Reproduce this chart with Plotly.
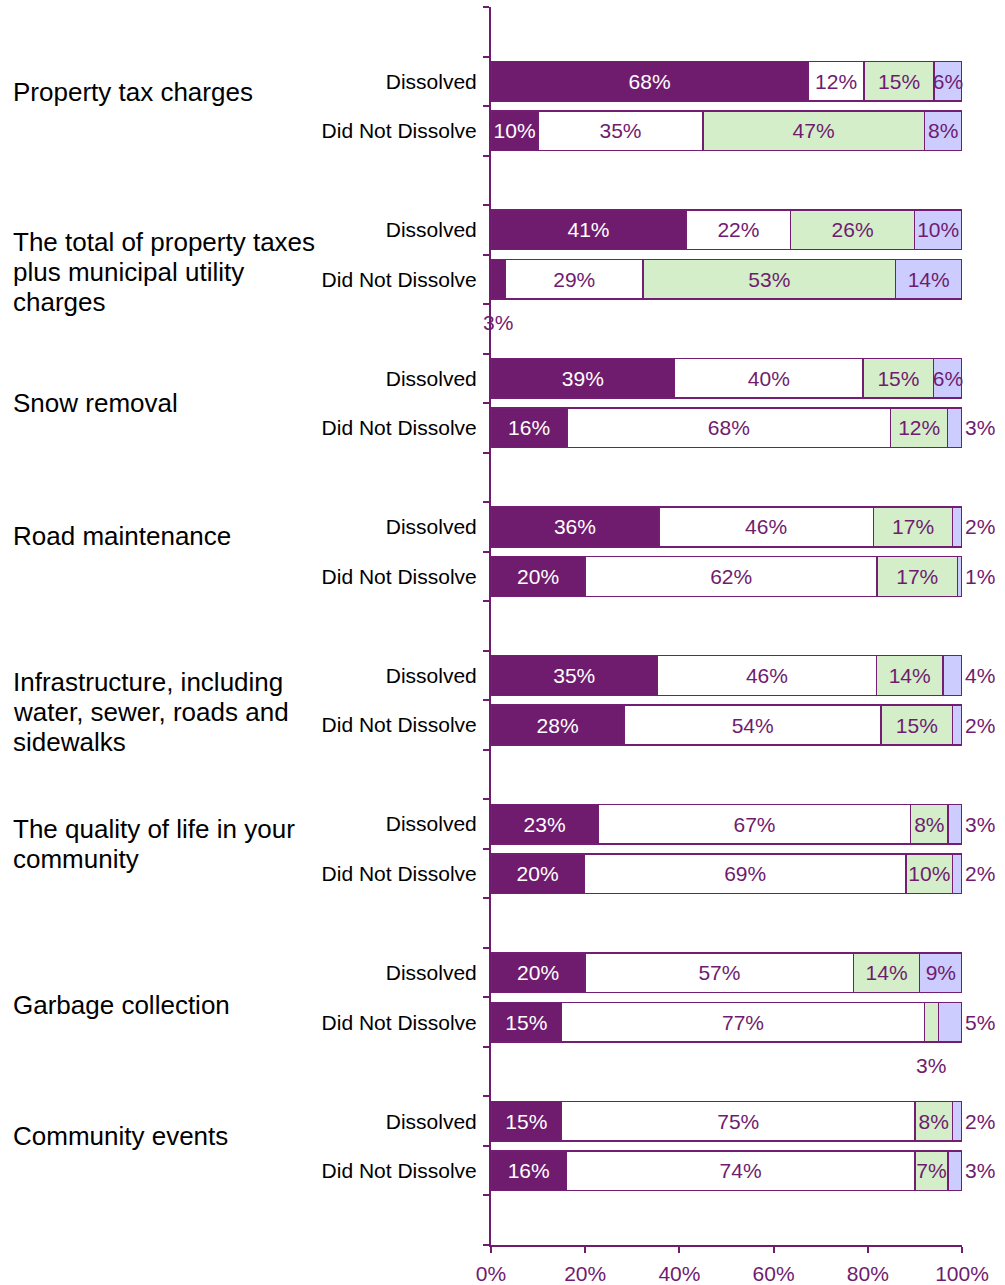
import plotly.graph_objects as go

# ---------------- data ----------------
categories = [
    "Property tax charges",
    "The total of property taxes<br>plus municipal utility<br>charges",
    "Snow removal",
    "Road maintenance",
    "Infrastructure, including<br>water, sewer, roads and<br>sidewalks",
    "The quality of life in your<br>community",
    "Garbage collection",
    "Community events",
]
groups = ["Dissolved", "Did Not Dissolve"]
series_names = ["Response A", "Response B", "Response C", "Response D"]

# rows: for each category -> Dissolved, Did Not Dissolve
seg1 = [68, 10, 41, 3, 39, 16, 36, 20, 35, 28, 23, 20, 20, 15, 15, 16]
seg2 = [12, 35, 22, 29, 40, 68, 46, 62, 46, 54, 67, 69, 57, 77, 75, 74]
seg3 = [15, 47, 26, 53, 15, 12, 17, 17, 14, 15, 8, 10, 14, 3, 8, 7]
seg4 = [6, 8, 10, 14, 6, 3, 2, 1, 4, 2, 3, 2, 9, 5, 2, 3]
x_ticks = [0, 20, 40, 60, 80, 100]
x_ticktext = ["0%", "20%", "40%", "60%", "80%", "100%"]

# ---------------- style ----------------
DARK = "#701C6E"
GREEN = "#D4EECA"
LAV = "#CCCCFF"
PURPLE_TXT = "#6F1C6F"
EDGE = "#731E73"
FONT = "Liberation Sans, Arial, sans-serif"
LABEL_SIZE = 21
CAT_SIZE = 26
LINE_STEP = 30
# vertical nudge (px) of each category label relative to its group centre
cat_nudge = [14.5, -17, 0, 16, -11.5, 4.5, -8, 9.7]

n_rows = len(seg1)
# slot layout: one blank slot on top, then (Dissolved, Did Not Dissolve, blank) per category
ypos = []
for i in range(len(categories)):
    ypos += [3 * i + 1.5, 3 * i + 2.5]
ylabels = [groups[k % 2] for k in range(n_rows)]
n_slots = 3 * len(categories) + 1

series = [seg1, seg2, seg3, seg4]
colors = [DARK, "#FFFFFF", GREEN, LAV]

fig = go.Figure()
annotations = []
for s_idx, (vals, col, nm) in enumerate(zip(series, colors, series_names)):
    texts, positions = [], []
    for r, v in enumerate(vals):
        texts.append(f"{v}%")
        if s_idx == 3 and v <= 5:
            positions.append("outside")
        elif s_idx in (0, 2) and v <= 3:
            positions.append("none")
            total = seg1[r] + seg2[r] + seg3[r] + seg4[r]
            before = sum(series[k][r] for k in range(s_idx))
            xc = (before + v / 2) / total * 100
            annotations.append(dict(
                x=xc, y=ypos[r], xref="x", yref="y", text=f"{v}%",
                showarrow=False, yshift=-43, xanchor="center", yanchor="middle",
                font=dict(family=FONT, size=LABEL_SIZE, color=PURPLE_TXT)))
        else:
            positions.append("inside")
    fig.add_trace(go.Bar(
        name=nm, x=vals, y=ypos, orientation="h", width=0.8,
        marker=dict(color=col, line=dict(color=EDGE, width=1.5)),
        text=texts, textposition=positions, textangle=0,
        insidetextanchor="middle", constraintext="none",
        insidetextfont=dict(family=FONT, size=LABEL_SIZE,
                            color="#FFFFFF" if s_idx == 0 else PURPLE_TXT),
        outsidetextfont=dict(family=FONT, size=LABEL_SIZE, color=PURPLE_TXT),
        cliponaxis=False, hoverinfo="skip",
    ))

# category labels
for i, cat in enumerate(categories):
    lines = cat.split("<br>")
    n = len(lines)
    for j, line in enumerate(lines):
        off = ((n - 1) / 2 - j) * LINE_STEP
        annotations.append(dict(
            x=0, y=3 * i + 2, xref="paper", yref="y", text=line,
            showarrow=False, xanchor="left", yanchor="middle",
            xshift=-480, yshift=cat_nudge[i] + off,
            font=dict(family=FONT, size=CAT_SIZE, color="#000000")))

fig.update_layout(
    width=1005, height=1285,
    margin=dict(l=491, r=43, t=7, b=40, autoexpand=False),
    barmode="stack", barnorm="percent",
    showlegend=False,
    plot_bgcolor="#FFFFFF", paper_bgcolor="#FFFFFF",
    annotations=annotations,
)
fig.update_xaxes(
    range=[0, 100.0001], tickmode="array", tickvals=x_ticks, ticktext=x_ticktext,
    showgrid=False, zeroline=False, automargin=False,
    showline=True, linecolor=PURPLE_TXT, linewidth=2,
    ticks="outside", ticklen=6, tickwidth=2, tickcolor=PURPLE_TXT,
    ticklabelstandoff=3,
    tickfont=dict(family=FONT, size=LABEL_SIZE, color=PURPLE_TXT),
)
fig.update_yaxes(
    range=[n_slots, 0], tickvals=ypos, ticktext=ylabels,
    showgrid=False, zeroline=False, automargin=False,
    showline=True, linecolor=PURPLE_TXT, linewidth=2,
    ticks="", ticklabelstandoff=8,
    tickfont=dict(family=FONT, size=LABEL_SIZE, color="#000000"),
    minor=dict(tickvals=list(range(n_slots + 1)), ticks="outside", ticklen=6,
               tickwidth=2, tickcolor=PURPLE_TXT, showgrid=False),
)

fig.write_html(
    "out.html",
    config={"displayModeBar": False},
    post_script="document.body.style.margin='0';document.body.style.overflow='hidden';",
)
